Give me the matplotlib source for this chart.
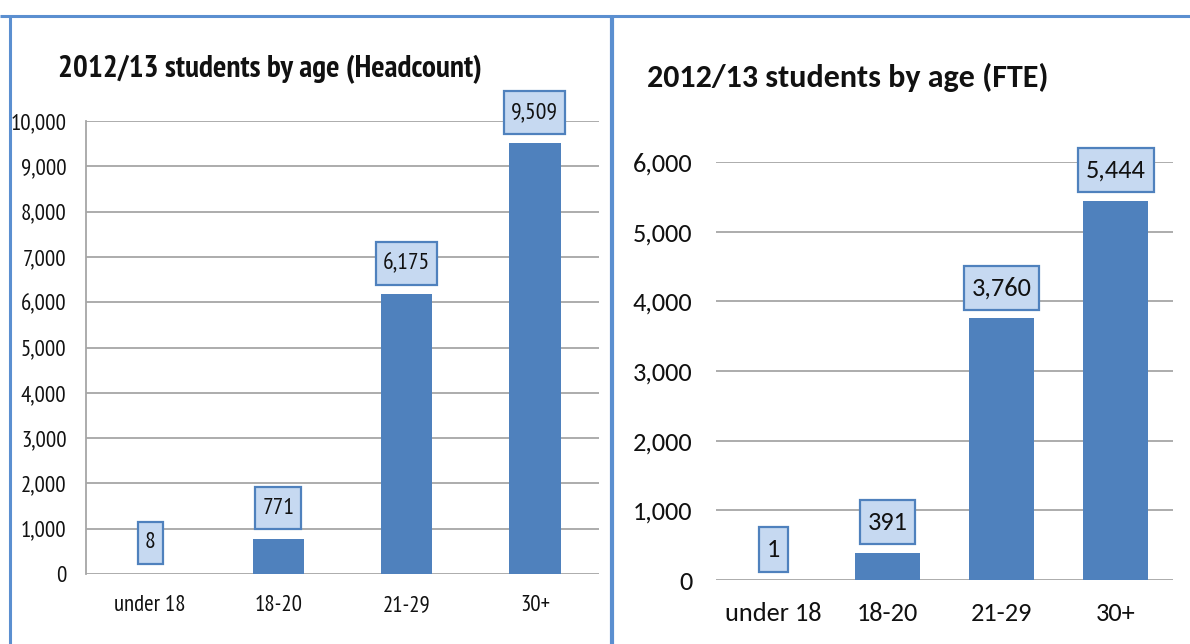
import matplotlib
matplotlib.use("Agg")
from matplotlib import pyplot as plt
from matplotlib.lines import Line2D
from matplotlib.path import Path
from matplotlib.ticker import FuncFormatter

age_groups = ["under 18", "18-20", "21-29", "30+"]
headcount = [8, 771, 6175, 9509]
fte = [1, 391, 3760, 5444]

headcount_ticks = list(range(0, 10001, 1000))
fte_ticks = list(range(0, 6001, 1000))

BAR_COLOR = "#4f81bd"
LABEL_FILL = "#c6d9f1"
GRID_COLOR = "#a6a6a6"
BORDER_COLOR = "#5b8fd0"
TEXT_COLOR = "#111111"

W, H = 1190, 644


def px_axes(fig, left, top, right, bottom):
    """Add axes given in pixel coordinates measured from the top-left corner."""
    return fig.add_axes([left / W, 1 - bottom / H, (right - left) / W, (bottom - top) / H])


def px_line(fig, x0, y0, x1, y1, lw):
    fig.add_artist(Line2D([x0 / W, x1 / W], [1 - y0 / H, 1 - y1 / H],
                          transform=fig.transFigure, color=BORDER_COLOR, lw=lw,
                          solid_capstyle="butt"))


def label_box(padx, pady):
    """Rectangle box style with separate horizontal and vertical padding."""
    def style(x0, y0, width, height, mutation_size):
        px, py = padx * mutation_size, pady * mutation_size
        x1, y1 = x0 + width + px, y0 + height + py
        x0, y0 = x0 - px, y0 - py
        return Path([(x0, y0), (x1, y0), (x1, y1), (x0, y1), (x0, y0)], closed=True)
    return style


def draw_panel(ax, values, ticks, font, size, label_size, bar_width, gap, pady,
               ypad, xpad, spine):
    """Draws one column chart with boxed value labels."""
    x = range(len(values))
    ax.bar(x, values, width=bar_width, color=BAR_COLOR, zorder=2)
    ax.set_xlim(-0.5, len(values) - 0.5)
    ax.set_ylim(0, ticks[-1])
    ax.set_yticks(ticks)
    ax.yaxis.set_major_formatter(FuncFormatter(lambda v, _: f"{v:,.0f}"))
    ax.set_xticks(list(x))
    ax.set_xticklabels(age_groups)
    ax.tick_params(axis="y", length=0, labelsize=size, pad=ypad, colors=TEXT_COLOR)
    ax.tick_params(axis="x", length=0, labelsize=size, pad=xpad, colors=TEXT_COLOR)
    for lbl in ax.get_xticklabels() + ax.get_yticklabels():
        lbl.set_family(font)
    ax.grid(axis="y", color=GRID_COLOR, lw=1.3, zorder=0)
    ax.set_axisbelow(True)
    for s in ax.spines.values():
        s.set_visible(False)
    if spine:
        ax.spines["left"].set_visible(True)
        ax.spines["left"].set_color(GRID_COLOR)
        ax.spines["left"].set_linewidth(1.3)
    ax.patch.set_alpha(0)

    # offset in points: visible gap plus the box's lower padding
    offset = gap + pady * label_size
    for i, v in enumerate(values):
        ax.annotate(f"{v:,}", (i, v), xytext=(0, offset), textcoords="offset points",
                    ha="center", va="bottom", fontsize=label_size, family=font,
                    color=TEXT_COLOR, annotation_clip=False, zorder=4,
                    bbox=dict(boxstyle=label_box(0.3, pady), fc=LABEL_FILL,
                              ec=BAR_COLOR, lw=1.6))


fig = plt.figure(figsize=(W / 100, H / 100), dpi=100)
fig.patch.set_facecolor("white")

# panel frames
px_line(fig, 0, 16, W, 16, 2.2)
px_line(fig, 10, 15, 10, H, 2.2)
px_line(fig, 612, 15, 612, H, 3.0)

ax1 = px_axes(fig, 86, 121, 599, 574)
draw_panel(ax1, headcount, headcount_ticks, "PT Sans Narrow", 16.5, 17, 0.4, 7, 0.45,
           14, 15, True)
fig.text(58 / W, 1 - 77 / H, "2012/13 students by age (Headcount)", fontsize=22.5,
         fontweight="bold", family="PT Sans Narrow", color=TEXT_COLOR,
         va="baseline", ha="left")

ax2 = px_axes(fig, 716, 162, 1173, 580)
draw_panel(ax2, fte, fte_ticks, "Carlito", 19, 19, 0.57, 6, 0.4, 17, 16, False)
fig.text(647 / W, 1 - 87 / H, "2012/13 students by age (FTE)", fontsize=23,
         fontweight="bold", family="Carlito", color=TEXT_COLOR,
         va="baseline", ha="left")

fig.savefig("out.png", dpi=100)
